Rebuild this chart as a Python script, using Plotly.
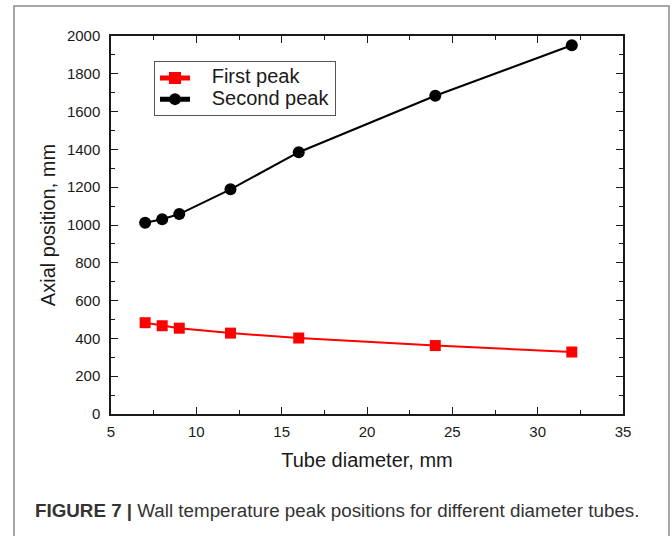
import plotly.graph_objects as go

diameter = [7, 8, 9, 12, 16, 24, 32]
first_peak = [483, 467, 454, 428, 402, 362, 328]
second_peak = [1012, 1030, 1058, 1189, 1385, 1684, 1951]
series_names = ["First peak", "Second peak"]

x_ticks = [5, 10, 15, 20, 25, 30, 35]
y_ticks = [0, 200, 400, 600, 800, 1000, 1200, 1400, 1600, 1800, 2000]

FONT = "Liberation Sans, Arial, sans-serif"
INK = "#1a1a1a"
PAD = "&nbsp;" * 3


def legend_label(name):
    return "<span style='font-size:20px'>" + PAD + name + "</span>"


fig = go.Figure()
fig.add_trace(go.Scatter(
    x=diameter, y=first_peak, name=legend_label(series_names[0]), mode="lines+markers",
    line=dict(color="#ff0000", width=2),
    marker=dict(symbol="square", size=11, color="#ff0000"),
))
fig.add_trace(go.Scatter(
    x=diameter, y=second_peak, name=legend_label(series_names[1]), mode="lines+markers",
    line=dict(color="#000000", width=2),
    marker=dict(symbol="circle", size=12, color="#000000"),
))

axis_common = dict(
    showline=True, linecolor=INK, linewidth=1.5, mirror="allticks",
    ticks="inside", ticklen=7, tickwidth=1.3, tickcolor=INK,
    showgrid=False, zeroline=False,
    tickfont=dict(family=FONT, size=15, color=INK),
)

fig.update_xaxes(
    range=[5, 35], tickvals=x_ticks, ticklabelstandoff=3,
    title=dict(text="Tube diameter, mm", font=dict(family=FONT, size=20, color=INK), standoff=14),
    minor=dict(ticks="inside", ticklen=4, tickwidth=1.2, tickcolor=INK, dtick=2.5),
    **axis_common,
)
fig.update_yaxes(
    range=[0, 2000], tickvals=y_ticks, ticklabelstandoff=6,
    title=dict(text="Axial position, mm", font=dict(family=FONT, size=20, color=INK), standoff=6),
    minor=dict(ticks="inside", ticklen=4, tickwidth=1.2, tickcolor=INK, dtick=100),
    **axis_common,
)

fig.update_layout(
    width=672, height=536,
    margin=dict(l=111, r=49, t=36, b=122),
    paper_bgcolor="white", plot_bgcolor="white",
    showlegend=True,
    legend=dict(
        x=0.084, y=0.933, xanchor="left", yanchor="top",
        bordercolor="#555555", borderwidth=1, bgcolor="white",
        font=dict(family=FONT, size=14, color=INK),
        tracegroupgap=0, itemsizing="constant",
    ),
    shapes=[dict(
        type="rect", xref="paper", yref="paper",
        x0=-0.1895, x1=1.0898, y0=-0.36, y1=1.0794,
        line=dict(color="#8a8a8a", width=1.5), fillcolor="rgba(0,0,0,0)", layer="below",
    )],
    annotations=[dict(
        xref="paper", yref="paper", x=-0.152, y=-0.254, xanchor="left", yanchor="middle",
        text="<b>FIGURE 7 |</b> Wall temperature peak positions for different diameter tubes.",
        showarrow=False, font=dict(family=FONT, size=18.8, color="#333333"),
    )],
)

fig.write_html("out.html")
